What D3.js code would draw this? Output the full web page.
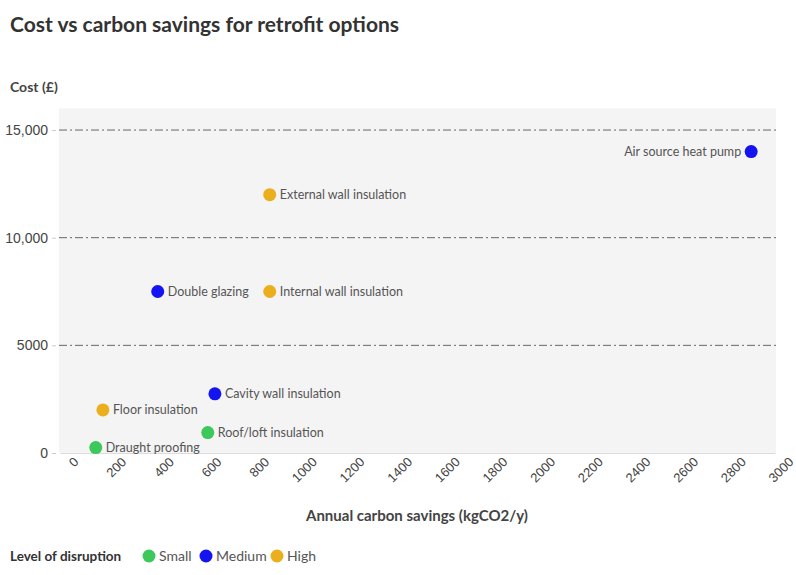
<!DOCTYPE html>
<html><head><meta charset="utf-8">
<script src="https://cdn.jsdelivr.net/npm/d3@7"></script>
<style>body{margin:0;background:#fff;font-family:"Source Sans Pro",Lato,sans-serif;}</style>
</head><body>
<script>
var names = ["Air source heat pump","External wall insulation","Double glazing","Internal wall insulation","Cavity wall insulation","Floor insulation","Roof/loft insulation","Draught proofing"];
var savings = [2900, 880, 410, 880, 650, 180, 620, 150];
var costs = [14000, 12000, 7500, 7500, 2750, 2000, 950, 250];
var levels = ["Medium","High","Medium","High","Medium","High","Small","Small"];
var levelNames = ["Small","Medium","High"];
var levelColors = ["#3cc85a","#1414f0","#ebae1c"];
var xTicks = d3.range(0, 3001, 200);
var yTicks = [0, 5000, 10000, 15000];

var width = 796, height = 575;
var x = d3.scaleLinear().domain([0,3000]).range([60,775]);
var y = d3.scaleLinear().domain([0,16000]).range([453,108.5]);
var color = d3.scaleOrdinal().domain(levelNames).range(levelColors);

var svg = d3.select("body").append("svg").attr("width",width).attr("height",height);

svg.append("text").attr("x",10).attr("y",32).style("font-size","21px").style("font-weight","bold").attr("fill","#333")
  .text("Cost vs carbon savings for retrofit options");
svg.append("text").attr("x",10).attr("y",92).style("font-size","14px").style("font-weight","bold").attr("fill","#444")
  .text("Cost (£)");

svg.append("rect").attr("x",59).attr("y",y(16000)).attr("width",776-59).attr("height",y(0)-y(16000)).attr("fill","#f4f4f4");

svg.append("g").selectAll("line").data(yTicks.filter(function(d){return d>0;})).join("line")
  .attr("x1",59).attr("x2",776).attr("y1",function(d){return y(d);}).attr("y2",function(d){return y(d);})
  .attr("stroke","#666").attr("stroke-width",1).attr("stroke-dasharray","8,3,2,3");

var yAxis = d3.axisLeft(y).tickValues(yTicks).tickSize(4).tickPadding(4)
  .tickFormat(function(d){return d>=10000 ? d3.format(",")(d) : d;});
var gy = svg.append("g").attr("transform","translate(56,0)").call(yAxis);
gy.select(".domain").remove();
gy.selectAll("line").attr("stroke","#ccc");
gy.selectAll("text").style("font-size","14px").attr("fill","#444").style("font-family","inherit");

var xAxis = d3.axisBottom(x).tickValues(xTicks).tickSize(0).tickPadding(6).tickFormat(function(d){return d;});
var gx = svg.append("g").attr("transform","translate(0,453)").call(xAxis);
gx.select(".domain").attr("stroke","#ddd");
gx.selectAll("text").style("font-size","13px").attr("fill","#444").style("font-family","inherit")
  .style("text-anchor","end").attr("dx","0.5em").attr("dy","1.1em").attr("transform","rotate(-45)")
  .attr("y",6).attr("x",0);

svg.append("text").attr("x",417).attr("y",521).attr("text-anchor","middle").style("font-size","15px")
  .style("font-weight","bold").attr("fill","#444").text("Annual carbon savings (kgCO2/y)");

var pts = svg.append("g").selectAll("g").data(names).join("g")
  .attr("transform",function(d,i){return "translate("+x(savings[i])+","+y(costs[i])+")";});
pts.append("circle").attr("r",6.5).attr("fill",function(d,i){return color(levels[i]);});
pts.append("text").attr("x",function(d,i){return savings[i]>2500 ? -10 : 10;})
  .attr("text-anchor",function(d,i){return savings[i]>2500 ? "end" : "start";})
  .attr("dy","0.35em").style("font-size","12.5px").attr("fill","#555").text(function(d){return d;});

var legend = svg.append("g").attr("transform","translate(10,556)");
legend.append("text").attr("dy","0.35em").style("font-size","13.5px").style("font-weight","bold").attr("fill","#333").text("Level of disruption");
var lx = [139, 196, 267];
levelNames.forEach(function(n,i){
  legend.append("circle").attr("cx",lx[i]).attr("cy",0).attr("r",6.5).attr("fill",levelColors[i]);
  legend.append("text").attr("x",lx[i]+10).attr("dy","0.35em").style("font-size","14px").attr("fill","#555").text(n);
});
</script>
</body></html>
